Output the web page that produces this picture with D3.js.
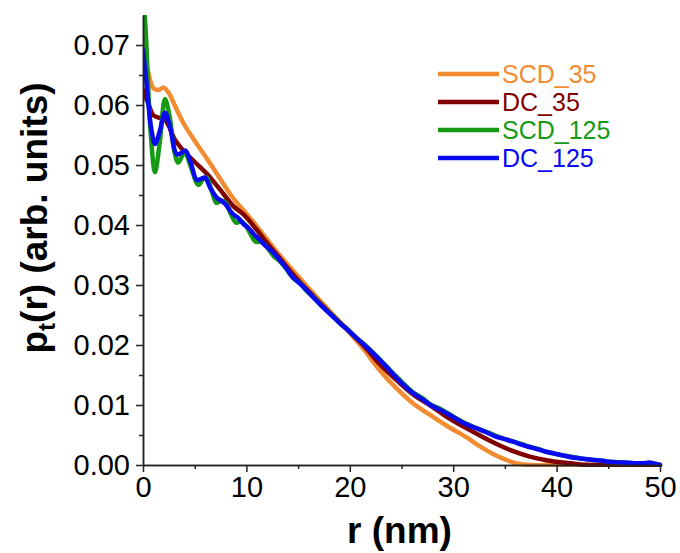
<!DOCTYPE html>
<html>
<head>
<meta charset="utf-8">
<script src="https://cdn.jsdelivr.net/npm/d3@7"></script>
<style>
  html, body { margin: 0; padding: 0; background: #fff; }
  svg { display: block; }
</style>
</head>
<body>
<svg id="chart" width="680" height="553"></svg>
<script>
// ---- data ----
const seriesNames = ["SCD_35", "DC_35", "SCD_125", "DC_125"];
const seriesColors = ["#F28C33", "#800000", "#169A16", "#0A0AF2"];

const scd35 = [
  [0, 0.0700], [0.5, 0.0655], [1.0, 0.0628], [1.5, 0.0625], [2.0, 0.0629], [2.5, 0.0620],
  [3.0, 0.0602], [3.9, 0.0570], [4.9, 0.0543], [6.2, 0.0510], [7.5, 0.0476], [8.7, 0.0445],
  [9.7, 0.0425], [11.0, 0.0398], [12.0, 0.0376], [13.2, 0.0350], [14.5, 0.0324], [16.0, 0.0295],
  [17.5, 0.0267], [19.0, 0.0239], [20.0, 0.0220], [21.2, 0.0196], [22.9, 0.0158], [24.5, 0.0128],
  [26.1, 0.0103], [27.8, 0.0083], [29.4, 0.0065], [31.3, 0.0046], [32.6, 0.0031], [34.0, 0.0017],
  [35.2, 0.0008], [36.3, 0.0002], [37.5, 0.0], [40, 0], [45, 0], [50, 0]
];

const dc35 = [
  [0, 0.0626], [0.5, 0.0603], [1.0, 0.0583], [1.5, 0.0579], [2.0, 0.0578], [2.5, 0.0565],
  [3.0, 0.0545], [3.9, 0.0524], [5.0, 0.0505], [6.2, 0.0485], [7.5, 0.0458], [8.7, 0.0432],
  [9.7, 0.0418], [11.0, 0.0392], [12.0, 0.0370], [13.2, 0.0345], [14.5, 0.0318], [16.0, 0.0290],
  [17.5, 0.0263], [19.0, 0.0238], [20.0, 0.0222], [21.5, 0.0196], [22.9, 0.0168], [24.5, 0.0142],
  [26.1, 0.0118], [27.8, 0.0099], [29.4, 0.0080], [31.0, 0.0064], [32.6, 0.0049], [34.2, 0.0035],
  [35.8, 0.0023], [37.4, 0.0014], [39.0, 0.0008], [40.6, 0.0004], [42.3, 0.0001], [44, 0], [50, 0]
];

const scd125 = [
  [0, 0.0800], [0.3, 0.0710], [0.7, 0.0565], [1.16, 0.0488], [1.6, 0.0535], [2.13, 0.0610],
  [2.6, 0.0578], [3.0, 0.0525], [3.4, 0.0504], [3.75, 0.0514], [4.06, 0.0521], [4.6, 0.0498],
  [5.35, 0.0467], [5.8, 0.0476], [6.16, 0.0479], [6.6, 0.0460], [7.1, 0.0437], [7.6, 0.0441],
  [8.0, 0.0437], [8.5, 0.0418], [9.0, 0.0404], [9.5, 0.0406], [9.9, 0.0400], [10.4, 0.0385],
  [10.9, 0.0372], [11.4, 0.0372], [11.9, 0.0365], [12.6, 0.0349], [13.2, 0.0340], [13.9, 0.0326],
  [14.5, 0.0312], [15.2, 0.0303], [15.9, 0.0289], [16.6, 0.0278], [17.4, 0.0263], [18.2, 0.0251],
  [19.0, 0.0237], [19.8, 0.0226], [20.7, 0.0211], [21.6, 0.0198], [22.9, 0.0176], [24.0, 0.0156],
  [25.0, 0.0139], [26.1, 0.0121], [27.0, 0.0112], [27.8, 0.0101], [28.6, 0.0095], [29.4, 0.0087],
  [30.2, 0.0079], [31.0, 0.0071], [31.8, 0.0065], [32.6, 0.0059], [33.4, 0.0054], [34.2, 0.0048],
  [35.0, 0.0043], [35.8, 0.0039], [36.6, 0.0035], [37.4, 0.0030], [38.2, 0.0027], [39.0, 0.0022],
  [39.8, 0.0019], [40.6, 0.0016], [41.4, 0.0014], [42.3, 0.0011], [43.2, 0.0009], [44.0, 0.0008],
  [44.8, 0.0006], [45.5, 0.0005], [46.5, 0.0004], [47.5, 0.0003], [48.3, 0.0003], [49.0, 0.0003],
  [49.5, 0.0002], [50, 0.0]
];

const dc125 = [
  [0, 0.0693], [0.4, 0.0625], [0.8, 0.0560], [1.16, 0.0535], [1.6, 0.0555], [2.13, 0.0587],
  [2.6, 0.0565], [3.26, 0.0518], [3.7, 0.0520], [4.1, 0.0524], [4.6, 0.0505], [5.2, 0.0475],
  [5.6, 0.0477], [6.0, 0.0479], [6.5, 0.0462], [7.1, 0.0446], [7.5, 0.0441], [7.9, 0.0436],
  [8.7, 0.0418], [9.2, 0.0412], [9.7, 0.0402], [10.2, 0.0395], [10.7, 0.0385], [11.3, 0.0375],
  [12.0, 0.0363], [12.6, 0.0354], [13.25, 0.0341], [13.9, 0.0327], [14.5, 0.0313], [15.2, 0.0302],
  [15.9, 0.0290], [16.6, 0.0277], [17.4, 0.0263], [18.2, 0.0250], [19.0, 0.0237], [19.8, 0.0225],
  [20.7, 0.0211], [21.6, 0.0197], [22.9, 0.0175], [24.0, 0.0155], [25.0, 0.0137], [26.1, 0.0120],
  [27.0, 0.0110], [27.8, 0.0100], [28.6, 0.0093], [29.4, 0.0086], [30.2, 0.0078], [31.0, 0.0070],
  [31.8, 0.0064], [32.6, 0.0059], [33.4, 0.0053], [34.2, 0.0047], [35.0, 0.0043], [35.8, 0.0039],
  [36.6, 0.0034], [37.4, 0.0030], [38.2, 0.0026], [39.0, 0.0022], [39.8, 0.0019], [40.6, 0.0016],
  [41.4, 0.0013], [42.3, 0.0011], [43.2, 0.0009], [44.0, 0.0008], [44.8, 0.0006], [45.5, 0.0005],
  [46.5, 0.0004], [47.5, 0.0003], [48.3, 0.0003], [49.0, 0.0004], [49.5, 0.0002], [50, 0.0]
];

const seriesData = [scd35, dc35, scd125, dc125];

const xTicks = [0, 10, 20, 30, 40, 50];
const xMinorTicks = [5, 15, 25, 35, 45];
const yTicks = [0, 0.01, 0.02, 0.03, 0.04, 0.05, 0.06, 0.07];
const yMinorTicks = [0.005, 0.015, 0.025, 0.035, 0.045, 0.055, 0.065];
const xTitle = "r (nm)";

// ---- layout ----
const svg = d3.select("#chart");
const mLeft = 143, mRight = 660, mTop = 15, mBottom = 465;
const x = d3.scaleLinear().domain([0, 50]).range([mLeft, mRight]);
const y = d3.scaleLinear().domain([0, 0.075]).range([mBottom, mTop]);

svg.append("defs").append("clipPath").attr("id", "clip")
  .append("rect").attr("x", mLeft).attr("y", mTop).attr("width", mRight - mLeft + 4).attr("height", mBottom - mTop + 2);

const font = "'Liberation Sans', Arial, sans-serif";

// lines
const line = d3.line().x(d => x(d[0])).y(d => y(d[1])).curve(d3.curveCatmullRom.alpha(0.5));
const gLines = svg.append("g").attr("clip-path", "url(#clip)");
seriesData.forEach((s, i) => {
  gLines.append("path").datum(s)
    .attr("d", line)
    .attr("fill", "none")
    .attr("stroke", seriesColors[i])
    .attr("stroke-width", 4.5)
    .attr("stroke-linejoin", "round")
    .attr("stroke-linecap", "round");
});

// axes
const xAxis = d3.axisBottom(x).tickValues(xTicks).tickFormat(d3.format("d")).tickSizeInner(7).tickSizeOuter(0).tickPadding(4);
const xAxisMinor = d3.axisBottom(x).tickValues(xMinorTicks).tickFormat("").tickSizeInner(4).tickSizeOuter(0);
const yAxis = d3.axisLeft(y).tickValues(yTicks).tickFormat(d3.format(".2f")).tickSizeInner(7).tickSizeOuter(0).tickPadding(6);
const yAxisMinor = d3.axisLeft(y).tickValues(yMinorTicks).tickFormat("").tickSizeInner(4).tickSizeOuter(0);

function styleAxis(g) {
  g.select(".domain").attr("stroke", "#222").attr("stroke-width", 1.5);
  g.selectAll(".tick line").attr("stroke", "#222").attr("stroke-width", 1.5);
  g.selectAll(".tick text").attr("font-family", font).attr("font-size", 29).attr("fill", "#000");
}

svg.append("g").attr("transform", `translate(0,${mBottom})`).call(xAxisMinor).call(styleAxis);
svg.append("g").attr("transform", `translate(0,${mBottom})`).call(xAxis).call(styleAxis);
svg.append("g").attr("transform", `translate(${mLeft},0)`).call(yAxisMinor).call(styleAxis);
svg.append("g").attr("transform", `translate(${mLeft},0)`).call(yAxis).call(styleAxis);

// axis titles
svg.append("text")
  .attr("x", (mLeft + mRight) / 2 - 2).attr("y", 543)
  .attr("text-anchor", "middle")
  .attr("font-family", font).attr("font-weight", "bold").attr("font-size", 37)
  .text(xTitle);

const yt = svg.append("text")
  .attr("transform", `translate(47,${218}) rotate(-90)`)
  .attr("text-anchor", "middle")
  .attr("font-family", font).attr("font-weight", "bold").attr("font-size", 37);
yt.append("tspan").text("p");
yt.append("tspan").attr("font-size", 24).attr("dy", 8).text("t");
yt.append("tspan").attr("dy", -8).text("(r) (arb. units)");

// legend
const legend = svg.append("g");
seriesNames.forEach((name, i) => {
  const cy = 74 + i * 28;
  legend.append("line")
    .attr("x1", 438).attr("x2", 499).attr("y1", cy).attr("y2", cy)
    .attr("stroke", seriesColors[i]).attr("stroke-width", 4.5);
  legend.append("text")
    .attr("x", 502).attr("y", cy + 9)
    .attr("font-family", font).attr("font-size", 25)
    .attr("fill", seriesColors[i])
    .text(name);
});
</script>
</body>
</html>
